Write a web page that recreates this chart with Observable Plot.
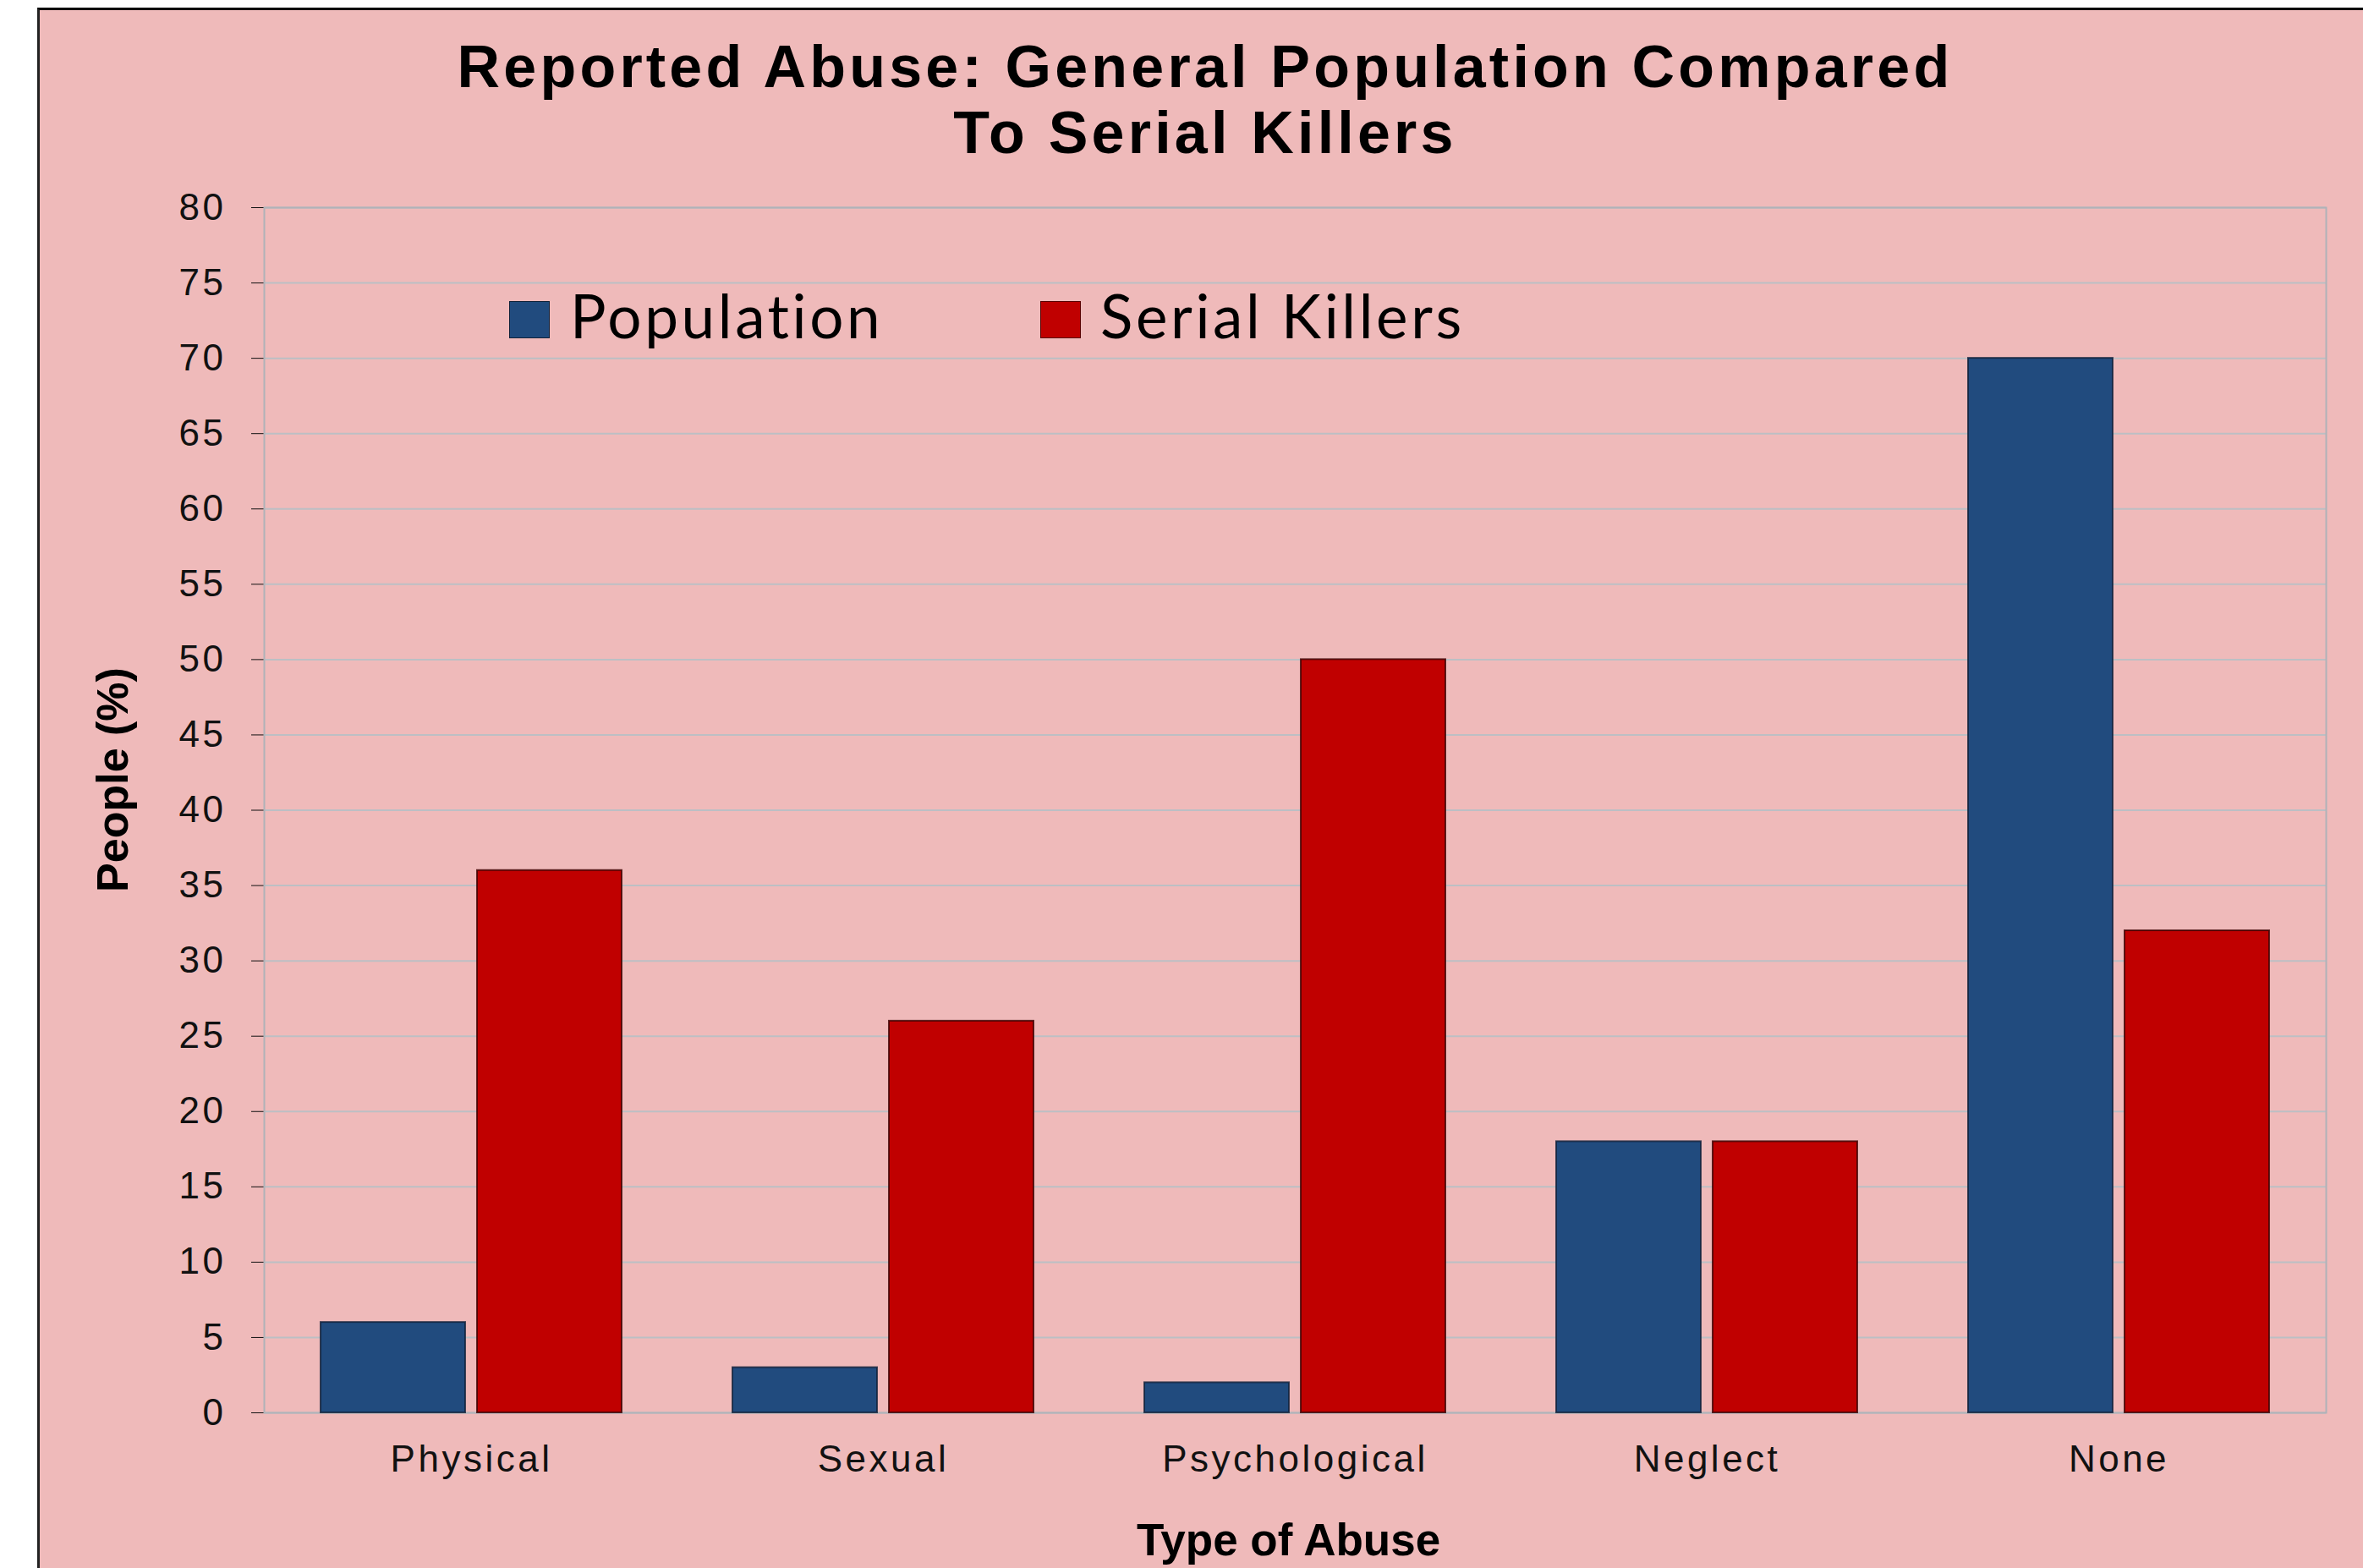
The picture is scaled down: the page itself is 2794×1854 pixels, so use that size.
<!DOCTYPE html>
<html>
<head>
<meta charset="utf-8">
<script src="https://cdn.jsdelivr.net/npm/d3@7"></script>
<script src="https://cdn.jsdelivr.net/npm/@observablehq/plot@0.6"></script>
<style>
  html, body { margin: 0; padding: 0; background: #fff; }
  body { position: relative; width: 2794px; height: 1854px; overflow: hidden; font-family: "Liberation Sans", Arial, sans-serif; }
  #box { position: absolute; left: 44px; top: 9px; width: 2750px; height: 1845px; background: #EFBABA; border-top: 3px solid #000; border-left: 3px solid #222; box-sizing: border-box; }
  #title { position: absolute; left: 425px; width: 2000px; top: 40px; text-align: center; font-weight: bold; font-size: 70px; line-height: 78px; letter-spacing: 4.2px; color: #000; }
  #chart { position: absolute; left: 45px; top: 200px; }
  .lg-sw { position: absolute; width: 48px; height: 44px; box-sizing: border-box; border: 1.5px solid rgba(0,0,0,0.55); }
  .lg-tx { position: absolute; font-family: Lato, "Open Sans", sans-serif; font-size: 71px; line-height: 70px; letter-spacing: 3.6px; color: #000; white-space: nowrap; }
</style>
</head>
<body>
<div id="box"></div>
<div id="title">Reported Abuse: General Population Compared<br>To Serial Killers</div>
<div id="chart"></div>
<div id="legend"></div>
<script>
// ---- data ----
const categories = ["Physical", "Sexual", "Psychological", "Neglect", "None"];
const population = [6, 3, 2, 18, 70];
const serialKillers = [36, 26, 50, 18, 32];
const seriesNames = ["Population", "Serial Killers"];
const seriesColors = ["#214B7E", "#C00000"];
const yTicks = [0, 5, 10, 15, 20, 25, 30, 35, 40, 45, 50, 55, 60, 65, 70, 75, 80];
const xTitle = "Type of Abuse";
const yTitle = "People (%)";

const rows = categories.map((c, i) => ({category: c, population: population[i], killers: serialKillers[i]}));

const chart = Plot.plot({
  width: 2749,
  height: 1654,
  marginLeft: 267,
  marginRight: 44,
  marginTop: 45,
  marginBottom: 184,
  style: {background: "transparent", fontFamily: "'Liberation Sans', Arial, sans-serif", fontSize: "44px", color: "#111", overflow: "visible"},
  x: {domain: categories, paddingInner: 0.27, paddingOuter: 0.135, label: null, tickSize: 0, tickPadding: 38},
  y: {domain: [0, 80], ticks: yTicks, label: null, tickSize: 15, tickPadding: 30},
  marks: [
    Plot.ruleY(yTicks, {stroke: "#bcbfc4", strokeWidth: 2}),
    Plot.frame({stroke: "#b0b2b8", strokeWidth: 2}),
    Plot.barY(rows, {x: "category", y: "population", fill: seriesColors[0], stroke: "#10213a", strokeOpacity: 0.8, strokeWidth: 2, insetRight: 185}),
    Plot.barY(rows, {x: "category", y: "killers", fill: seriesColors[1], stroke: "#3a0000", strokeOpacity: 0.8, strokeWidth: 2, insetLeft: 185}),
    Plot.text([yTitle], {text: d => d, frameAnchor: "left", textAnchor: "middle", rotate: -90, dx: -178, dy: -36, fontSize: 52, fontWeight: "bold", fill: "#000", ariaLabel: "ytitle"}),
    Plot.text([xTitle], {text: d => d, frameAnchor: "bottom", textAnchor: "middle", lineAnchor: "middle", dy: 152, dx: -8, fontSize: 53, fontWeight: "bold", fill: "#000", ariaLabel: "xtitle"})
  ]
});
document.getElementById("chart").appendChild(chart);

const svg = d3.select(chart);
svg.selectAll('g[aria-label*="axis"] text').style("letter-spacing", "3.5px");
svg.selectAll('g[aria-label="xtitle"] text').style("letter-spacing", "6px");

// legend
const legendPos = [{sw: 602, tx: 674}, {sw: 1230, tx: 1301}];
const legend = document.getElementById("legend");
seriesNames.forEach((name, i) => {
  const sw = document.createElement("div");
  sw.className = "lg-sw";
  sw.style.left = legendPos[i].sw + "px";
  sw.style.top = "356px";
  sw.style.background = seriesColors[i];
  legend.appendChild(sw);
  const tx = document.createElement("div");
  tx.className = "lg-tx";
  tx.style.left = legendPos[i].tx + "px";
  tx.style.top = "338px";
  tx.textContent = name;
  legend.appendChild(tx);
});
</script>
</body>
</html>
